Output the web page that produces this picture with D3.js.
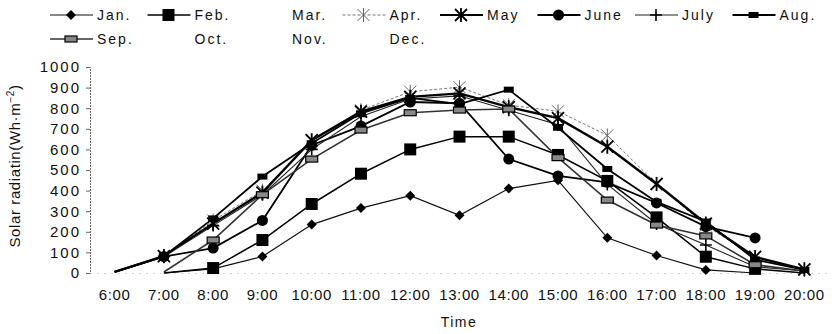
<!DOCTYPE html>
<html>
<head>
<meta charset="utf-8">
<script src="https://cdn.jsdelivr.net/npm/d3@7"></script>
<style>
  body { margin: 0; background: #fff; }
  svg { display: block; }
  text { font-family: "Liberation Sans", Arial, sans-serif; fill: #111; }
</style>
</head>
<body>
<svg id="chart" width="832" height="334"></svg>
<script>
// Hourly categories and axis ticks
const hours = ["6:00", "7:00", "8:00", "9:00", "10:00", "11:00", "12:00", "13:00",
               "14:00", "15:00", "16:00", "17:00", "18:00", "19:00", "20:00"];
const yTicks = [0, 100, 200, 300, 400, 500, 600, 700, 800, 900, 1000];
const months = ["Jan.", "Feb.", "Mar.", "Apr.", "May", "June", "July", "Aug.",
                "Sep.", "Oct.", "Nov.", "Dec."];

// Solar radiation (Wh·m⁻²) per hour, null where no reading
const jan  = [null, 0, 20, 80, 235, 315, 375, 280, 410, 450, 171, 85, 15, 0, null];
const feb  = [null, 0, 24, 160, 335, 482, 600, 662, 662, 573, 447, 270, 79, 20, 0];
const mar  = [];
const apr  = [5, 80, 255, 400, 640, 790, 880, 902, 815, 785, 668, 432, 230, 78, 15];
const may  = [5, 82, 240, 390, 645, 783, 855, 872, 805, 752, 613, 432, 240, 78, 18];
const june = [5, 80, 121, 255, 620, 713, 830, 824, 553, 471, 440, 340, 225, 170, null];
const july = [5, 80, 230, 380, 600, 760, 845, 860, 790, 720, 430, 238, 136, 30, 10];
const aug  = [5, 82, 265, 468, 630, 775, 850, 820, 890, 705, 505, 345, 250, 65, 15];
const sep  = [null, 5, 160, 380, 553, 694, 778, 791, 796, 560, 354, 233, 180, 40, 10];
const oct  = [];
const nov  = [];
const dec  = [];

const seriesValues = [jan, feb, mar, apr, may, june, july, aug, sep, oct, nov, dec];

// Line and marker style per month
const styles = {
  "Jan.": { stroke: "#111", width: 1.2, dash: null, marker: "diamond" },
  "Feb.": { stroke: "#000", width: 1.5, dash: null, marker: "square" },
  "Mar.": { stroke: "none", width: 0, dash: null, marker: null },
  "Apr.": { stroke: "#777", width: 1, dash: "3,2", marker: "star" },
  "May":  { stroke: "#000", width: 2.4, dash: null, marker: "asterisk" },
  "June": { stroke: "#000", width: 1.8, dash: null, marker: "circle" },
  "July": { stroke: "#222", width: 1.1, dash: null, marker: "plus" },
  "Aug.": { stroke: "#000", width: 1.8, dash: null, marker: "bar" },
  "Sep.": { stroke: "#333", width: 1.6, dash: null, marker: "hatch" },
  "Oct.": { stroke: "none", width: 0, dash: null, marker: null },
  "Nov.": { stroke: "none", width: 0, dash: null, marker: null },
  "Dec.": { stroke: "none", width: 0, dash: null, marker: null }
};

const svg = d3.select("#chart");

const x = d3.scaleBand().domain(hours).range([90, 829]).padding(0);
const y = d3.scaleLinear().domain([0, 1000]).range([273, 67]);
const cx = h => x(h) + x.bandwidth() / 2;

// Axes
const yAxis = d3.axisLeft(y).tickValues(yTicks).tickFormat(d3.format("d"))
  .tickSize(4).tickPadding(6);
const gy = svg.append("g").attr("transform", "translate(90,0)").call(yAxis);
gy.select(".domain").attr("stroke", "#666").attr("stroke-dasharray", "2,1");
gy.selectAll(".tick line").attr("stroke", "#666");
gy.selectAll(".tick text")
  .style("font-size", "15px").style("letter-spacing", "2px")
  .attr("fill", "#111").attr("x", -9);

const xAxis = d3.axisBottom(x).tickSize(0).tickPadding(16);
const gx = svg.append("g").attr("transform", "translate(0,273)").call(xAxis);
gx.select(".domain").attr("stroke", "#aaa").attr("stroke-dasharray", "1,6");
gx.selectAll(".tick text")
  .style("font-size", "15px").style("letter-spacing", "0.6px").attr("fill", "#111");

// Axis titles
svg.append("text")
  .attr("x", 459).attr("y", 327)
  .attr("text-anchor", "middle")
  .style("font-size", "14px").style("letter-spacing", "1.5px")
  .text("Time");

const yt = svg.append("text")
  .attr("transform", "translate(20,166) rotate(-90)")
  .attr("text-anchor", "middle")
  .style("font-size", "15px").style("letter-spacing", "0.6px");
yt.append("tspan").text("Solar radiatin(Wh·m");
yt.append("tspan").attr("dy", -6).style("font-size", "10px").text("−2");
yt.append("tspan").attr("dy", 6).text(")");

// Marker drawing
function drawMarker(g, type, px, py) {
  if (!type) return;
  if (type === "diamond") {
    const r = 5;
    g.append("path")
      .attr("d", `M${px},${py - r}L${px + r},${py}L${px},${py + r}L${px - r},${py}Z`)
      .attr("fill", "#000");
  } else if (type === "square") {
    g.append("rect").attr("x", px - 6).attr("y", py - 6)
      .attr("width", 12).attr("height", 12).attr("fill", "#000");
  } else if (type === "circle") {
    g.append("circle").attr("cx", px).attr("cy", py).attr("r", 5.5).attr("fill", "#000");
  } else if (type === "asterisk") {
    const r = 6;
    const p = `M${px - r},${py - r}L${px + r},${py + r}M${px - r},${py + r}L${px + r},${py - r}` +
              `M${px},${py - r - 1}L${px},${py + r + 1}`;
    g.append("path").attr("d", p).attr("stroke", "#000").attr("stroke-width", 1.8).attr("fill", "none");
  } else if (type === "star") {
    const r = 6;
    const p = `M${px - r},${py - r}L${px + r},${py + r}M${px - r},${py + r}L${px + r},${py - r}` +
              `M${px},${py - r - 1}L${px},${py + r + 1}`;
    g.append("path").attr("d", p).attr("stroke", "#666").attr("stroke-width", 1).attr("fill", "none");
  } else if (type === "plus") {
    const r = 6;
    g.append("path").attr("d", `M${px - r},${py}L${px + r},${py}M${px},${py - r}L${px},${py + r}`)
      .attr("stroke", "#000").attr("stroke-width", 1.6).attr("fill", "none");
  } else if (type === "bar") {
    g.append("rect").attr("x", px - 5).attr("y", py - 3)
      .attr("width", 10).attr("height", 6).attr("fill", "#000");
  } else if (type === "hatch") {
    g.append("rect").attr("x", px - 6).attr("y", py - 3)
      .attr("width", 12).attr("height", 6).attr("fill", "#888")
      .attr("stroke", "#000").attr("stroke-width", 1.2);
  }
}

// Series lines and markers
const line = d3.line()
  .defined(d => d.v !== null && d.v !== undefined)
  .x(d => cx(d.h)).y(d => y(d.v));

const plot = svg.append("g");
months.forEach((m, i) => {
  const vals = seriesValues[i];
  if (!vals.length) return;
  const st = styles[m];
  const pts = hours.map((h, k) => ({ h, v: vals[k] === undefined ? null : vals[k] }));
  plot.append("path").datum(pts)
    .attr("d", line)
    .attr("fill", "none")
    .attr("stroke", st.stroke)
    .attr("stroke-width", st.width)
    .attr("stroke-dasharray", st.dash);
});

// Markers are left off the near-zero readings at the ends of the day
const markers = svg.append("g");
months.forEach((m, i) => {
  const vals = seriesValues[i];
  const st = styles[m];
  hours.forEach((h, k) => {
    const v = vals[k];
    if (v === null || v === undefined || v <= 12) return;
    drawMarker(markers, st.marker, cx(h), y(v));
  });
});

// Legend: two rows, eight columns
const legend = svg.append("g");
months.forEach((m, i) => {
  const col = i % 8, row = Math.floor(i / 8);
  const tx = 97 + col * 97.5;
  const ty = 15 + row * 24;
  const st = styles[m];
  const g = legend.append("g");
  if (st.marker) {
    g.append("line").attr("x1", tx - 47).attr("x2", tx - 4)
      .attr("y1", ty).attr("y2", ty)
      .attr("stroke", st.stroke).attr("stroke-width", Math.min(st.width, 1.8))
      .attr("stroke-dasharray", st.dash);
    drawMarker(g, st.marker, tx - 26, ty);
  }
  g.append("text").attr("x", tx).attr("y", ty + 5)
    .style("font-size", "14px").style("letter-spacing", "2px")
    .text(m);
});
</script>
</body>
</html>
